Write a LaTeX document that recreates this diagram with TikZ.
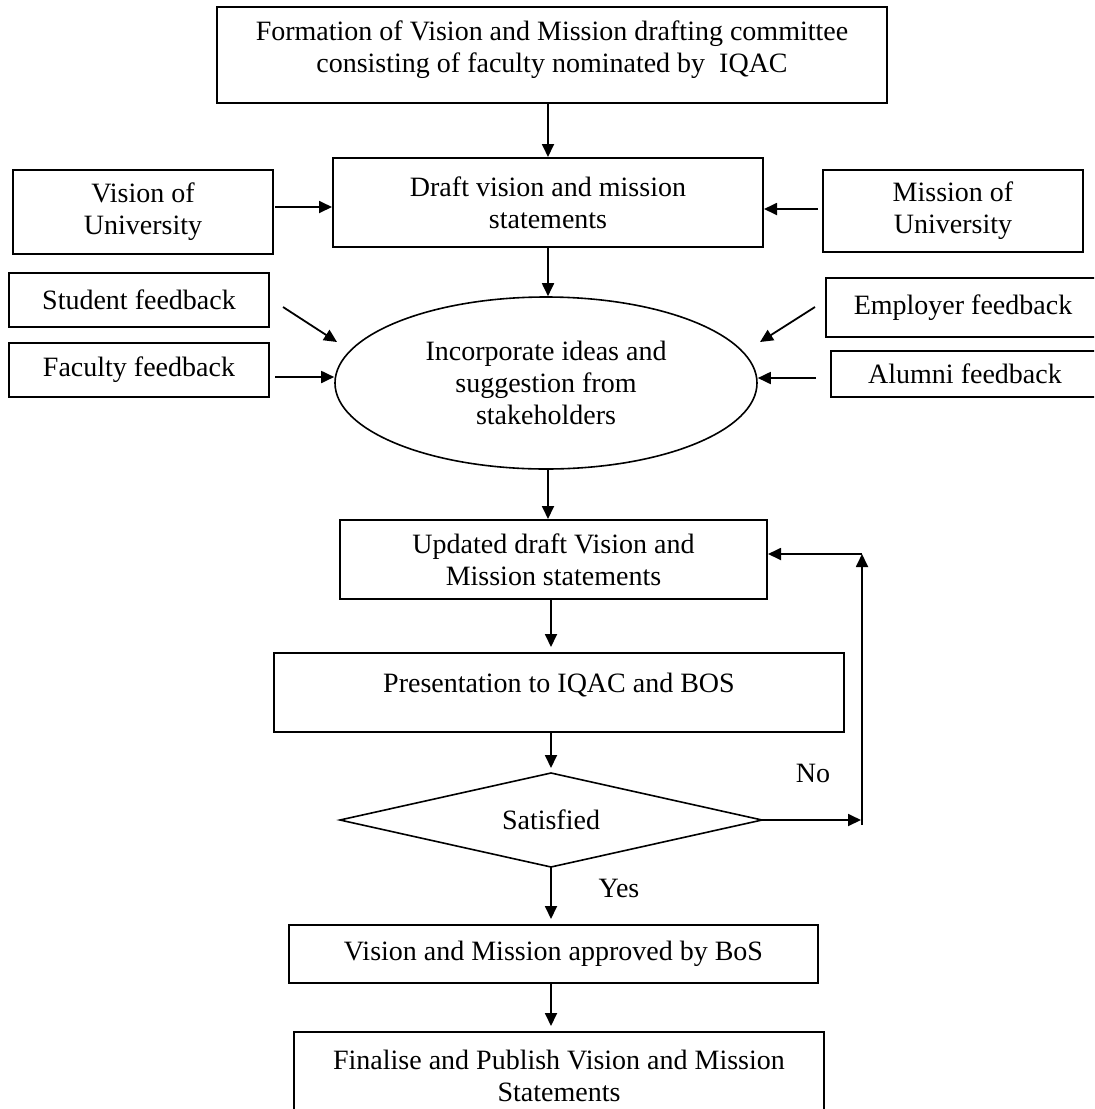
\documentclass[tikz,border=0pt]{standalone}
\usepackage{fontspec}
\setmainfont{Liberation Serif}
\usetikzlibrary{arrows.meta,shapes.geometric}
\begin{document}
\begin{tikzpicture}[x=0.5pt,y=-0.5pt,
  every node/.style={font=\fontsize{14}{16}\selectfont},
  box/.style={draw, line width=1pt, rectangle, inner sep=0pt, align=center},
  lbl/.style={align=center, inner sep=0pt},
  oval/.style={draw, line width=0.8pt, ellipse, inner sep=0pt, align=center},
  outline/.style={draw, line width=0.8pt, line join=miter},
  arr/.style={line width=0.9pt, -{Triangle[length=6.5pt,width=6pt]}},
  gap/.style={shorten >=2.5pt},
  plain/.style={inner sep=0pt}
]
\useasboundingbox (0,0) rectangle (1094,1109);
\clip (0,0) rectangle (1094,1109);

% main column
\node[box, minimum width=335pt, minimum height=48pt,
  label={[lbl,yshift=2.5pt]center:Formation of Vision and Mission drafting committee\\consisting of faculty nominated by~ IQAC}]
  (form) at (552,55) {};
\node[box, minimum width=215pt, minimum height=44.5pt] (drf) at (548,202.5)
  {Draft vision and mission\\statements};
\node[oval, minimum width=211pt, minimum height=86pt] (inc) at (546,383)
  {Incorporate ideas and\\suggestion from\\stakeholders};
\node[box, minimum width=213.5pt, minimum height=39.5pt] (upd) at (553.5,559.5)
  {Updated draft Vision and\\Mission statements};
\node[box, minimum width=285pt, minimum height=39.5pt,
  label={[lbl,yshift=3.75pt]center:Presentation to IQAC and BOS}]
  (pres) at (559,692.5) {};

% decision: text node plus its diamond outline
\node[plain] (dia) at (551,820) {Satisfied};
\coordinate (dia-t) at (551,773);
\coordinate (dia-r) at (762,820);
\coordinate (dia-b) at (551,867);
\coordinate (dia-l) at (340,820);
\draw[outline] (dia-l) -- (dia-t) -- (dia-r) -- (dia-b) -- cycle;

\node[box, minimum width=264.5pt, minimum height=29pt] (appr) at (553.5,954)
  {Vision and Mission approved by BoS};
\node[box, minimum width=265pt, minimum height=43.5pt] (fin) at (559,1075.5)
  {Finalise and Publish Vision and Mission\\Statements};

% side inputs
\node[box, minimum width=130pt, minimum height=42pt] (vis) at (143,212) {Vision of\\University};
\node[box, minimum width=130pt, minimum height=41pt] (mis) at (953,211) {Mission of\\University};
\node[box, minimum width=130pt, minimum height=27pt] (stu) at (139,300) {Student feedback};
\node[box, minimum width=130pt, minimum height=27pt] (fac) at (139,370) {Faculty feedback};
\node[box, minimum width=137pt, minimum height=29.5pt] (emp) at (963,307.5) {Employer feedback};
\node[box, minimum width=134pt, minimum height=23pt] (alu) at (965,374) {Alumni feedback};

% decision labels
\node[plain] (no) at (813,773) {No};
\node[plain] (yes) at (619,888) {Yes};

% column positions for the vertical arrows
\coordinate (colA) at (548,0);
\coordinate (colB) at (551,0);

\draw[arr] (form.south -| colA) -- (drf.north -| colA);
\draw[arr] (drf.south -| colA) -- (inc.north -| colA);
\draw[arr] (inc.south -| colA) -- (upd.north -| colA);
\draw[arr,gap] (upd.south -| colB) -- (pres.north -| colB);
\draw[arr,gap] (pres.south -| colB) -- (dia-t);
\draw[arr,gap] (dia-b) -- (appr.north -| colB);
\draw[arr,gap] (appr.south -| colB) -- (fin.north -| colB);

% inputs into the draft
\coordinate (vis-o) at (275,207);
\coordinate (mis-o) at (818,209);
\draw[arr] (vis-o) -- (vis-o -| drf.west);
\draw[arr] (mis-o) -- (mis-o -| drf.east);

% feedback into the stakeholder step
\coordinate (stu-o) at (283,307);
\coordinate (stu-i) at (337,342);
\coordinate (fac-o) at (275,377);
\coordinate (emp-o) at (815,307);
\coordinate (emp-i) at (760,342);
\coordinate (alu-o) at (816,378);
\draw[arr] (stu-o) -- (stu-i);
\draw[arr] (fac-o) -- (fac-o -| inc.west);
\draw[arr] (emp-o) -- (emp-i);
\draw[arr] (alu-o) -- (alu-o -| inc.east);

% "No" loop back to the updated draft
\coordinate (lp-r) at (861,820);
\coordinate (lp-b) at (862,825);
\coordinate (lp-t) at (862,554);
\draw[arr] (dia-r) -- (lp-r);
\draw[arr] (lp-b) -- (lp-t);
\draw[arr] (lp-t) -- (lp-t -| upd.east);
\end{tikzpicture}
\end{document}
